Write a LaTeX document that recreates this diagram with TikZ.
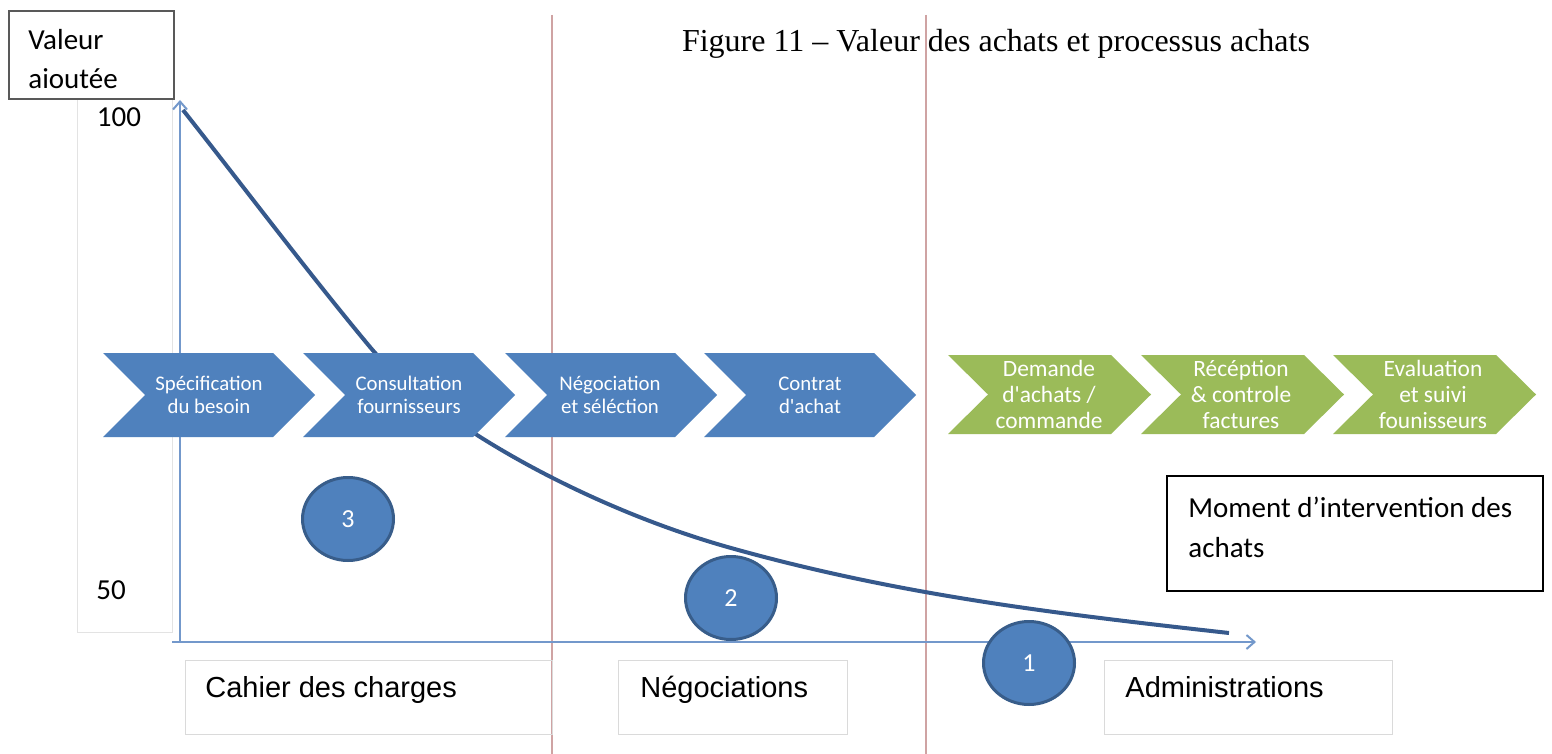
\documentclass[tikz,border=0pt]{standalone}
\usepackage{fontspec}
\setmainfont{Carlito}[Ligatures=TeXOff]
\newfontfamily\arialf{Liberation Sans}
\newfontfamily\timesf{Liberation Serif}
\usetikzlibrary{arrows.meta,shapes.geometric}
\definecolor{chevblue}{HTML}{4F81BD}
\definecolor{chevgreen}{HTML}{9BBB59}
\definecolor{circborder}{HTML}{385D8A}
\definecolor{curveblue}{HTML}{36598C}
\definecolor{axisblue}{HTML}{7398CB}
\definecolor{redline}{HTML}{CFA3A3}
\definecolor{faintgray}{HTML}{E3E3E3}
\definecolor{boxgray}{HTML}{DADADA}
\tikzset{
  chev/.pic={\path[pic actions] (0,0) -- (170,0) -- (212,42) -- (170,84) -- (0,84) -- (42,42) -- cycle;},
  gchev/.pic={\path[pic actions] (0,0) -- (163,0) -- (203,39.5) -- (163,79) -- (0,79) -- (40,39.5) -- cycle;},
  bluetext/.style={align=center, text=white, font=\fontsize{10.4}{11.5}\selectfont, inner sep=0pt},
  greentext/.style={align=center, text=white, font=\fontsize{11.7}{13}\selectfont, inner sep=0pt},
  numcirc/.style={ellipse, draw=circborder, line width=1.5pt, fill=chevblue, text=white, minimum width=45.5pt, minimum height=41.5pt, inner sep=0pt, font=\fontsize{13}{15}\selectfont},
  lblbox/.style={draw=boxgray, line width=0.6pt, anchor=north west, inner sep=0pt},
  lbltext/.style={anchor=base west, font=\arialf\fontsize{14.5}{17}\selectfont, inner sep=0pt},
  axis/.style={draw=axisblue, line width=1pt, -{Straight Barb[length=4pt,width=7pt]}},
  sep/.style={draw=redline, line width=1.2pt},
  curve/.style={draw=curveblue, line width=2pt},
}
\begin{document}
\begin{tikzpicture}[x=0.5pt,y=-0.5pt]
\useasboundingbox[fill=white] (0,0) rectangle (1552,754);
% faint scale box
\node[draw=faintgray, line width=0.6pt, anchor=north west, minimum width=47.5pt, minimum height=267pt, inner sep=0pt] (scalebox) at (77,98) {};
\node[font=\fontsize{14.5}{17}\selectfont, inner sep=0pt] (v100) at (119,117) {100};
\node[font=\fontsize{14.5}{17}\selectfont, inner sep=0pt] (v50) at (111,590) {50};
% value box
\node[draw=black!65, line width=1pt, anchor=north west, minimum width=82.5pt, minimum height=44pt, inner sep=0pt] (valbox) at (8,10) {};
\node[anchor=west, font=\fontsize{14.5}{17}\selectfont, inner sep=0pt] (val1) at (28,40) {Valeur};
\node[anchor=west, font=\fontsize{14.5}{17}\selectfont, inner sep=0pt] (val2) at (28,79) {aioutée};
% separators
\coordinate (s1t) at (552,15); \coordinate (s1b) at (552,754);
\coordinate (s2t) at (926,15); \coordinate (s2b) at (926,754);
\draw[sep] (s1t) -- (s1b);
\draw[sep] (s2t) -- (s2b);
% title
\node[font=\timesf\fontsize{16}{19}\selectfont, inner sep=0pt] (title) at (996,44) {Figure 11 – Valeur des achats et processus achats};
% axes
\coordinate (origin) at (180,642);
\coordinate (ytop) at (180,100);
\coordinate (xstart) at (172,642);
\coordinate (xend) at (1256,642);
\draw[axis] (origin) -- (ytop);
\draw[axis] (xstart) -- (xend);
% curve
\coordinate (cv0) at (183,110);
\coordinate (cv1) at (370,347);
\coordinate (cv2) at (731,548);
\coordinate (cv3) at (1229,633);
\draw[curve] (cv0) .. controls (243,186) and (310,275) .. (cv1)
  .. controls (430,419) and (581,506) .. (cv2)
  .. controls (901,595.6) and (1059,614) .. (cv3);
% blue chevrons
\pic[fill=chevblue] at (103,353) {chev};
\pic[fill=chevblue] at (303,353) {chev};
\pic[fill=chevblue] at (505,353) {chev};
\pic[fill=chevblue] at (704,353) {chev};
\node[bluetext] (b1) at (209,395) {Spécification\\du besoin};
\node[bluetext] (b2) at (409,395) {Consultation\\fournisseurs};
\node[bluetext] (b3) at (610,395) {Négociation\\et séléction};
\node[bluetext] (b4) at (810,395) {Contrat\\d'achat};
% green chevrons
\pic[fill=chevgreen] at (948,355) {gchev};
\pic[fill=chevgreen] at (1141,355) {gchev};
\pic[fill=chevgreen] at (1333,355) {gchev};
\node[greentext] (g1) at (1049,394) {Demande\\d'achats /\\commande};
\node[greentext] (g2) at (1241,394) {Récéption\\\& controle\\factures};
\node[greentext] (g3) at (1433,394) {Evaluation\\et suivi\\founisseurs};
% circles
\node[numcirc] (n3) at (348,519) {3};
\node[numcirc] (n2) at (731,598) {2};
\node[numcirc] (n1) at (1029,663) {1};
% moment box
\node[draw=black, line width=0.9pt, anchor=north west, minimum width=188pt, minimum height=57.5pt, inner sep=0pt] (momentbox) at (1166,475) {};
\node[anchor=west, font=\fontsize{14.5}{17}\selectfont, inner sep=0pt] (mom1) at (1188,507) {Moment d’intervention des};
\node[anchor=west, font=\fontsize{14.5}{17}\selectfont, inner sep=0pt] (mom2) at (1188,548) {achats};
% bottom labels
\node[lblbox, minimum width=183.5pt, minimum height=37pt] (cdcbox) at (185,660) {};
\node[lbltext] (cdc) at (205,697) {Cahier des charges};
\node[lblbox, minimum width=114.5pt, minimum height=37pt] (negbox) at (618,660) {};
\node[lbltext] (neg) at (640,697) {Négociations};
\node[lblbox, minimum width=144pt, minimum height=37pt] (admbox) at (1104,660) {};
\node[lbltext] (adm) at (1125,697) {Administrations};
\end{tikzpicture}
\end{document}
